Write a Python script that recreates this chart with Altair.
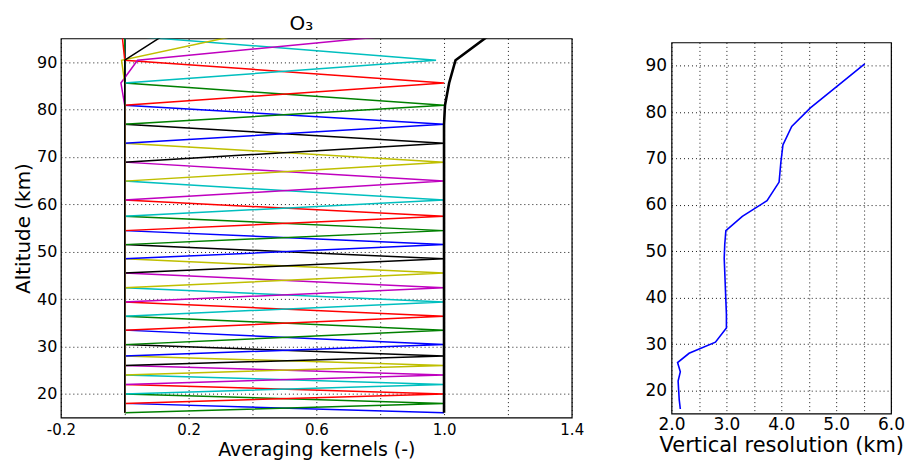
import altair as alt
import pandas as pd

# Retrieval levels (km) where kernels peak
levels = [16, 18, 20, 22, 24, 26, 28, 30.4, 33.45, 36.4, 39.4, 42.4, 45.5, 48.5,
          51.5, 54.45, 57.5, 60.9, 64.9, 68.9, 72.9, 76.9, 80.9, 85.6, 90.4,
          95.6, 101.0, 106.5]
# kernel value at its own level
peaks = [1.0] * 24 + [0.975, 0.84, 0.8, 0.6]
# off-peak values read near the top: (kernel index, level index, value)
offpeak = [(23, 25, -0.008), (25, 24, 0.04), (25, 23, -0.012),
           (26, 24, -0.01), (26, 25, 0.35), (27, 25, 0.12)]
kernel_colors = ["#0000ff", "#008000", "#ff0000", "#00bfbf", "#bf00bf", "#bfbf00", "#000000"]

# sum of kernels (thick black line)
sum_levels = levels[:26]
sum_values = [1.0] * 22 + [1.003, 1.016, 1.036, 1.14]

# vertical resolution (right panel)
vres_levels = levels[:25]
vres_values = [2.16, 2.14, 2.13, 2.12, 2.16, 2.11, 2.32, 2.80, 3.0, 3.0, 2.99, 2.98,
               2.97, 2.96, 2.97, 2.99, 3.29, 3.74, 3.96, 3.99, 4.03, 4.19, 4.53,
               5.02, 5.52]

off = {(k, j): v for k, j, v in offpeak}
rows = []
names = []
for k in range(len(levels)):
    name = f"k{k:02d}"
    names.append(name)
    for j, z in enumerate(levels):
        v = peaks[k] if j == k else off.get((k, j), 0.0)
        rows.append({"kernel": name, "alt": z, "ak": v})
kdf = pd.DataFrame(rows)
colors = [kernel_colors[i % 7] for i in range(len(levels))]

sdf = pd.DataFrame({"alt": sum_levels, "ak": sum_values})
vdf = pd.DataFrame({"alt": vres_levels, "res": vres_values})

FONT = "DejaVu Sans"
ydom = alt.Scale(domain=[15, 95], nice=False, zero=False)

xl_vals = [round(-0.2 + 0.2 * i, 1) for i in range(9)]
left_x = alt.X("ak:Q", scale=alt.Scale(domain=[-0.2, 1.4], nice=False, zero=False),
               axis=alt.Axis(values=xl_vals, format=".1f", title="Averaging kernels (-)",
                             labelExpr="indexof([-2,2,6,10,14], round(datum.value*10)) >= 0 ? replace(datum.label, '\u2212', '-') : ''",
                             labelFontSize=15, titleFontSize=19, labelPadding=5,
                             titlePadding=3, labelFlush=False, labelOverlap=False))
left_y = alt.Y("alt:Q", scale=ydom,
               axis=alt.Axis(values=[20, 30, 40, 50, 60, 70, 80, 90], title="Altitude (km)",
                             labelFontSize=16, titleFontSize=20, labelPadding=4, titlePadding=3))

kern = alt.Chart(kdf).mark_line(strokeWidth=1.5, clip=True).encode(
    x=left_x, y=left_y,
    color=alt.Color("kernel:N", scale=alt.Scale(domain=names, range=colors), legend=None),
    order=alt.Order("alt:Q"),
)
sumline = alt.Chart(sdf).mark_line(strokeWidth=2.6, color="#000000", clip=True).encode(
    x="ak:Q", y="alt:Q", order=alt.Order("alt:Q"))

left = alt.layer(kern, sumline).properties(
    width=512, height=380,
    title=alt.TitleParams("O₃", fontSize=20, font=FONT, fontWeight="normal", dx=-15, offset=4),
)

xr_vals = [2.0 + 0.5 * i for i in range(9)]
right = alt.Chart(vdf).mark_line(strokeWidth=1.6, color="#0000ff", clip=True).encode(
    x=alt.X("res:Q", scale=alt.Scale(domain=[2, 6], nice=False, zero=False),
            axis=alt.Axis(values=xr_vals, format=".1f", title="Vertical resolution (km)",
                          labelExpr="datum.value % 1 == 0 ? datum.label : ''",
                          labelFontSize=17, titleFontSize=21, labelPadding=3, titlePadding=2,
                          labelFlush=False, labelOverlap=False)),
    y=alt.Y("alt:Q", scale=ydom,
            axis=alt.Axis(values=[20, 30, 40, 50, 60, 70, 80, 90], title=None,
                          labelFontSize=17, labelPadding=5)),
    order=alt.Order("alt:Q"),
).properties(width=220, height=372)

chart = alt.hconcat(left, right, spacing=100, bounds="flush", center=True).configure(
    font=FONT,
).configure_view(
    stroke="#000000", strokeWidth=1.2,
).configure_axis(
    domain=False, ticks=False, grid=True, gridColor="#000000", gridDash=[1, 3],
    gridWidth=1, gridOpacity=0.9, labelColor="#000000", titleColor="#000000",
    labelFont=FONT, titleFont=FONT, titleFontWeight="normal",
)

chart.save("out.html", embed_options={"renderer": "svg", "actions": False})
